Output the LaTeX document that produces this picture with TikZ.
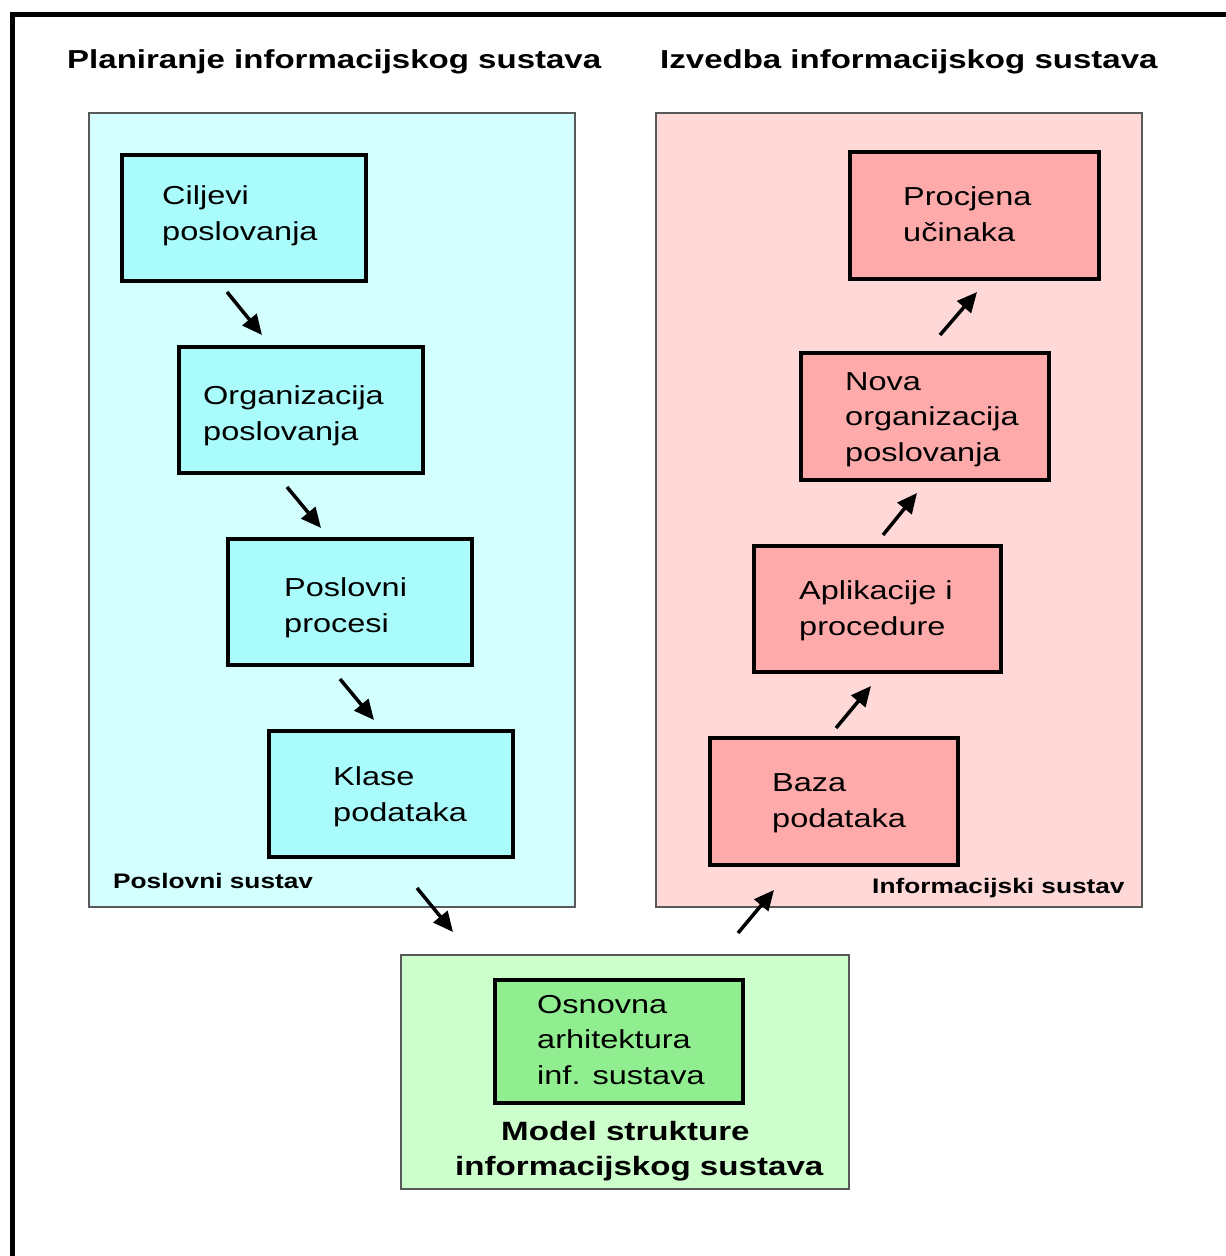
\documentclass[tikz,border=0pt]{standalone}
\usepackage{fontspec}
\newfontfamily\arialw[FakeStretch=1.25]{Liberation Sans}
\newfontfamily\arialt[FakeStretch=1.27]{Liberation Sans}
\usetikzlibrary{arrows.meta}
\definecolor{cyanbg}{HTML}{D4FFFF}
\definecolor{cyanbox}{HTML}{AAFCFC}
\definecolor{pinkbg}{HTML}{FFD8D8}
\definecolor{pinkbox}{HTML}{FFAAAA}
\definecolor{greenbg}{HTML}{CCFFCC}
\definecolor{greenbox}{HTML}{90EE90}
\tikzset{
  panel/.style={draw=black!65, line width=1.2pt, inner sep=0pt},
  stepbox/.style={draw=black, line width=3.2pt, inner sep=0pt, minimum height=126pt},
  boxtext/.style={anchor=base west, align=left, inner sep=0pt, font=\arialw\fontsize{26}{35.5}\selectfont},
  title/.style={anchor=base west, inner sep=0pt, font=\arialt\bfseries\fontsize{26}{30}\selectfont},
  small/.style={anchor=base west, inner sep=0pt, font=\arialw\bfseries\fontsize{21}{25}\selectfont},
  model/.style={anchor=base west, inner sep=0pt, font=\arialw\bfseries\fontsize{26.5}{35}\selectfont},
  arr/.style={line width=3.5pt, -{Triangle[length=20pt,width=18pt]}},
}
\begin{document}
\begin{tikzpicture}[x=1pt,y=-1pt]
\useasboundingbox (0,0) rectangle (1226,1256);
% frame
\draw[line width=5pt] (1226,14.5) -- (12.5,14.5) -- (12.5,1256);
% titles
\node[title] (t1) at (67,68) {Planiranje informacijskog sustava};
\node[title] (t2) at (660,68) {Izvedba informacijskog sustava};
% panels
\node[panel, fill=cyanbg, minimum width=486pt, minimum height=794pt] (pl) at (332,510) {};
\node[panel, fill=pinkbg, minimum width=486pt, minimum height=794pt] (pr) at (899,510) {};
\node[panel, fill=greenbg, minimum width=448pt, minimum height=234pt] (pg) at (625,1072) {};
% left boxes
\node[stepbox, fill=cyanbox, minimum width=244pt] (c1) at (244,218) {};
\node[stepbox, fill=cyanbox, minimum width=244pt] (c2) at (301,410) {};
\node[stepbox, fill=cyanbox, minimum width=244pt] (c3) at (350,602) {};
\node[stepbox, fill=cyanbox, minimum width=244pt] (c4) at (391,794) {};
% right boxes
\node[stepbox, fill=pinkbox, minimum width=249pt, minimum height=127pt] (r1) at (974.5,215.5) {};
\node[stepbox, fill=pinkbox, minimum width=248pt, minimum height=127pt] (r2) at (925,416.5) {};
\node[stepbox, fill=pinkbox, minimum width=247pt] (r3) at (877.5,609) {};
\node[stepbox, fill=pinkbox, minimum width=248pt, minimum height=127pt] (r4) at (834,801.5) {};
% green box
\node[stepbox, fill=greenbox, minimum width=248pt, minimum height=123pt] (g1) at (619,1041.5) {};
% texts (anchor = baseline of last line)
\node[boxtext] (c1t) at (162,240) {Ciljevi\\poslovanja};
\node[boxtext] (c2t) at (203,440) {Organizacija\\poslovanja};
\node[boxtext] (c3t) at (284,632) {Poslovni\\procesi};
\node[boxtext] (c4t) at (333,821) {Klase\\podataka};
\node[boxtext] (r1t) at (903,241) {Procjena\\učinaka};
\node[boxtext] (r2t) at (845,461) {Nova\\organizacija\\poslovanja};
\node[boxtext] (r3t) at (799,635) {Aplikacije i\\procedure};
\node[boxtext] (r4t) at (772,827) {Baza\\podataka};
\node[boxtext] (g1t) at (537,1084) {Osnovna\\arhitektura\\inf. sustava};
\node[small] (plt) at (113,888) {Poslovni sustav};
\node[small] (prt) at (872,893) {Informacijski sustav};
\node[model] (pgt1) at (501,1140) {Model strukture};
\node[model] (pgt2) at (455,1175) {informacijskog sustava};
% arrows
\coordinate (a1s) at (227,292); \coordinate (a1e) at (262,335);
\coordinate (a2s) at (287,487); \coordinate (a2e) at (321,528);
\coordinate (a3s) at (340,679); \coordinate (a3e) at (374,720);
\coordinate (a4s) at (417,888); \coordinate (a4e) at (453,932);
\coordinate (a5s) at (738,933); \coordinate (a5e) at (774,890);
\coordinate (a6s) at (836,728); \coordinate (a6e) at (871,686);
\coordinate (a7s) at (883,535); \coordinate (a7e) at (917,493);
\coordinate (a8s) at (940,335); \coordinate (a8e) at (977,292);
\foreach \i in {1,...,8} \draw[arr] (a\i s) -- (a\i e);
\end{tikzpicture}
\end{document}
